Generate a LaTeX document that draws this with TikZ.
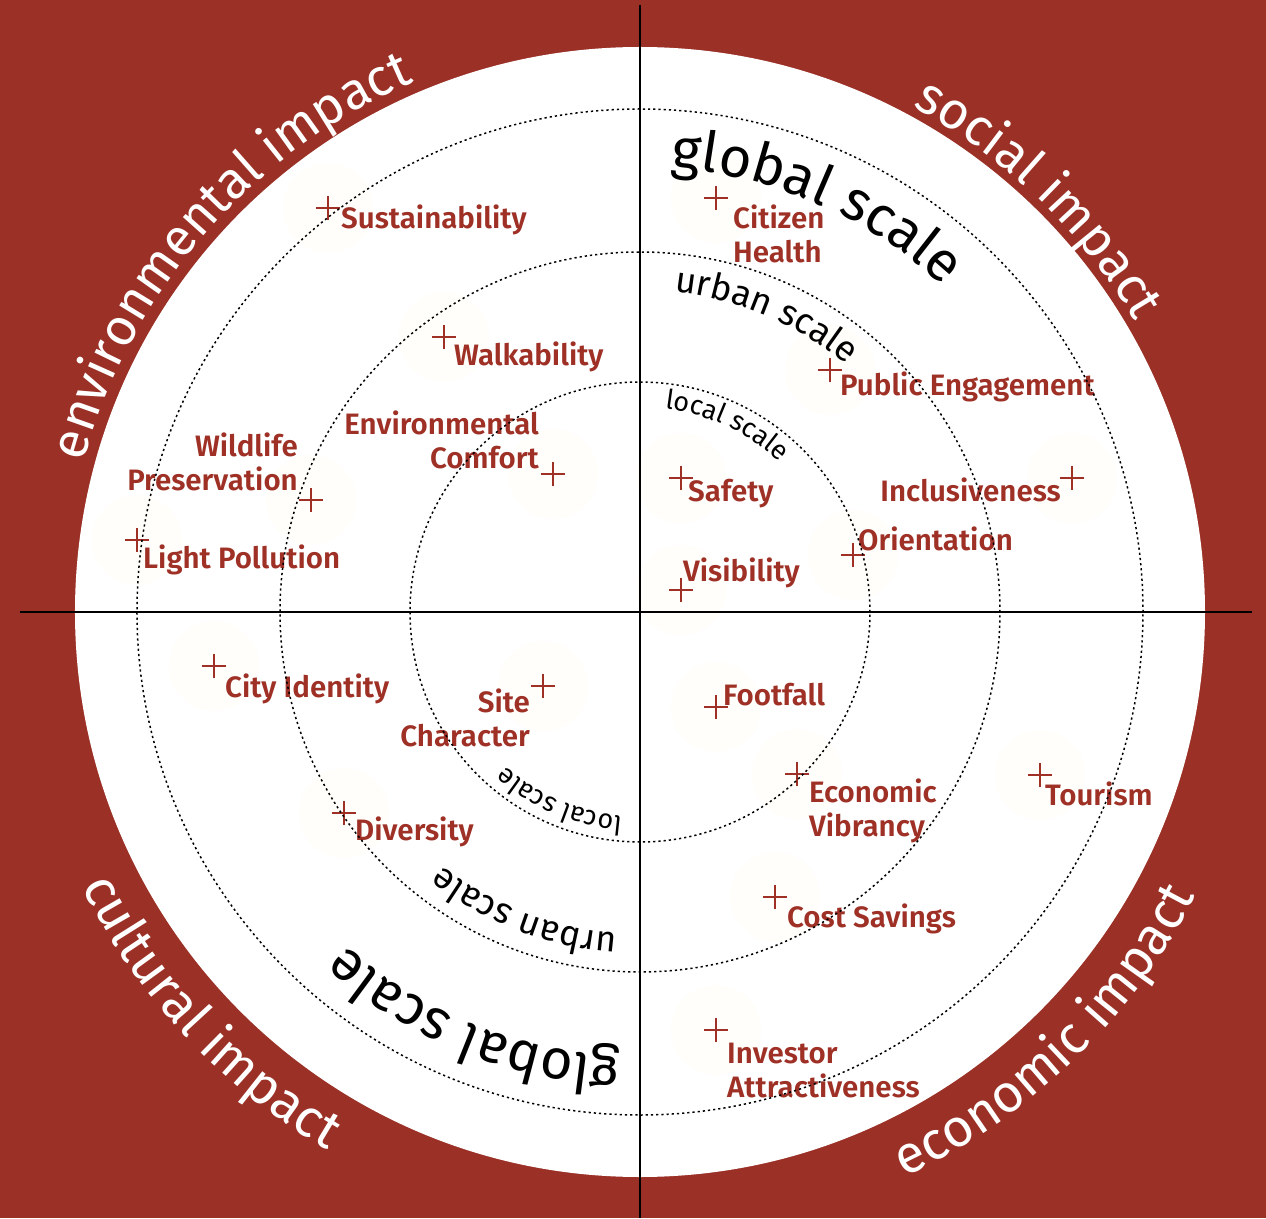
\documentclass[tikz,border=0pt]{standalone}
\usepackage{fontspec}
\setmainfont{Fira Sans}
\IfFontExistsTF{Fira Sans Book}{\newfontfamily\thinfont{Fira Sans Book}}{\newfontfamily\thinfont{Fira Sans}}
\IfFontExistsTF{Fira Sans SemiBold}{\newfontfamily\labfont{Fira Sans SemiBold}}{\newcommand{\labfont}{\bfseries}}
\usetikzlibrary{decorations.text}
\definecolor{labred}{RGB}{158,48,38}
\definecolor{bgred}{RGB}{155,48,38}
\definecolor{halocol}{RGB}{255,254,251}
\begin{document}
\begin{tikzpicture}[x=1pt,y=1pt,
  lab/.style={text=labred,font=\labfont\fontsize{29.5}{34}\selectfont,inner sep=0pt},
  ring/.style={draw=black,line width=1.5pt,dash pattern=on 2.2pt off 3pt},
  axisline/.style={draw=black,line width=1.4pt},
  plusmark/.pic={\draw[labred,line width=2.6pt] (-12,0)--(12,0) (0,-12)--(0,12);},
  halo/.style={fill=halocol}]
\useasboundingbox (-640,-606) rectangle (626,612);
\fill[bgred] (-640,-606) rectangle (626,612);
\fill[white] (0,0) coordinate (O) circle (565pt);

% marker positions
\coordinate (m1) at (-312,404);
\coordinate (m2) at (76,414);
\coordinate (m3) at (-196,275);
\coordinate (m4) at (190,242);
\coordinate (m5) at (-87,138);
\coordinate (m6) at (-329,112);
\coordinate (m7) at (-503,72);
\coordinate (m8) at (41,134);
\coordinate (m9) at (432,134);
\coordinate (m10) at (213,57);
\coordinate (m11) at (41,22);
\coordinate (m12) at (-426,-54);
\coordinate (m13) at (-97,-74);
\coordinate (m14) at (76,-95);
\coordinate (m15) at (-296,-201);
\coordinate (m16) at (157,-162);
\coordinate (m17) at (400,-163);
\coordinate (m18) at (135,-285);
\coordinate (m19) at (76,-418);

% faint halos
\foreach \m in {m1,m2,m3,m4,m5,m6,m7,m8,m9,m10,m11,m12,m13,m14,m15,m16,m17,m18,m19}
  \fill[halo] (\m) circle (45pt);

% labels
\node[lab,anchor=west] (t1) at (-299,392) {Sustainability};
\node[lab,anchor=west,align=left] (t2) at (93,378) {Citizen\\Health};
\node[lab,anchor=west] (t3) at (-186,255) {Walkability};
\node[lab,anchor=west] (t4) at (200,225) {Public Engagement};
\node[lab,anchor=east,align=right] (t5) at (-101,172) {Environmental\\Comfort};
\node[lab,anchor=east,align=right] (t6) at (-342,150) {Wildlife\\Preservation};
\node[lab,anchor=west] (t7) at (-497,52) {Light Pollution};
\node[lab,anchor=west] (t8) at (48,118) {Safety};
\node[lab,anchor=east] (t9) at (421,122) {Inclusiveness};
\node[lab,anchor=west] (t10) at (218,73) {Orientation};
\node[lab,anchor=west] (t11) at (43,39) {Visibility};
\node[lab,anchor=west] (t12) at (-415,-77) {City Identity};
\node[lab,anchor=east,align=right] (t13) at (-110,-106) {Site\\Character};
\node[lab,anchor=west] (t14) at (83,-83) {Footfall};
\node[lab,anchor=west] (t15) at (-285,-220) {Diversity};
\node[lab,anchor=west,align=left] (t16) at (169,-199) {Economic\\Vibrancy};
\node[lab,anchor=west] (t17) at (405,-182) {Tourism};
\node[lab,anchor=west] (t18) at (147,-307) {Cost Savings};
\node[lab,anchor=west,align=left] (t19) at (87,-459) {Investor\\Attractiveness};

% plus markers
\foreach \m in {m1,m2,m3,m4,m5,m6,m7,m8,m9,m10,m11,m12,m13,m14,m15,m16,m17,m18,m19}
  \pic at (\m) {plusmark};

% dotted rings
\draw[ring] (O) circle (503pt);
\draw[ring] (O) circle (360pt);
\draw[ring] (O) circle (230pt);

% axes
\coordinate (vt) at (0,607);
\coordinate (vb) at (0,-606);
\coordinate (hl) at (-620,0);
\coordinate (hr) at (612,0);
\draw[axisline] (vt) -- (vb);
\draw[axisline] (hl) -- (hr);

% impact labels
\path[decorate,decoration={text along path,text align=center,
  text={|\thinfont\fontsize{52}{60}\selectfont\color{white}|environmental impact}}]
  (179:576) arc[start angle=179,end angle=99,radius=576pt];
\path[decorate,decoration={text along path,text align=center,
  text={|\thinfont\fontsize{52}{60}\selectfont\color{white}|social impact}}]
  (86:574) arc[start angle=86,end angle=6,radius=574pt];
\path[decorate,decoration={text along path,text align=center,
  text={|\thinfont\fontsize{53}{60}\selectfont\color{white}|cultural impact}}]
  (183:622) arc[start angle=183,end angle=263,radius=622pt];
\path[decorate,decoration={text along path,text align=center,
  text={|\thinfont\fontsize{53}{60}\selectfont\color{white}|economic impact}}]
  (274:624) arc[start angle=274,end angle=354,radius=624pt];

% scale labels
\path[decorate,decoration={text along path,text align=center,
  text={|\thinfont\fontsize{56}{60}\selectfont|global scale}}]
  (106:445) arc[start angle=106,end angle=27,radius=445pt];
\path[decorate,decoration={text along path,text align=center,
  text={|\thinfont\fontsize{56}{60}\selectfont|global scale}}]
  (288:445) arc[start angle=288,end angle=208,radius=445pt];
\path[decorate,decoration={text along path,text align=center,
  text={|\thinfont\fontsize{36}{40}\selectfont|urban scale}}]
  (107:322) arc[start angle=107,end angle=27,radius=322pt];
\path[decorate,decoration={text along path,text align=center,
  text={|\thinfont\fontsize{36}{40}\selectfont|urban scale}}]
  (289:322) arc[start angle=289,end angle=209,radius=322pt];
\path[decorate,decoration={text along path,text align=center,
  text={|\thinfont\fontsize{27}{30}\selectfont|local scale}}]
  (105:205) arc[start angle=105,end angle=25,radius=205pt];
\path[decorate,decoration={text along path,text align=center,
  text={|\thinfont\fontsize{27}{30}\selectfont|local scale}}]
  (287:205) arc[start angle=287,end angle=207,radius=205pt];
\end{tikzpicture}
\end{document}
